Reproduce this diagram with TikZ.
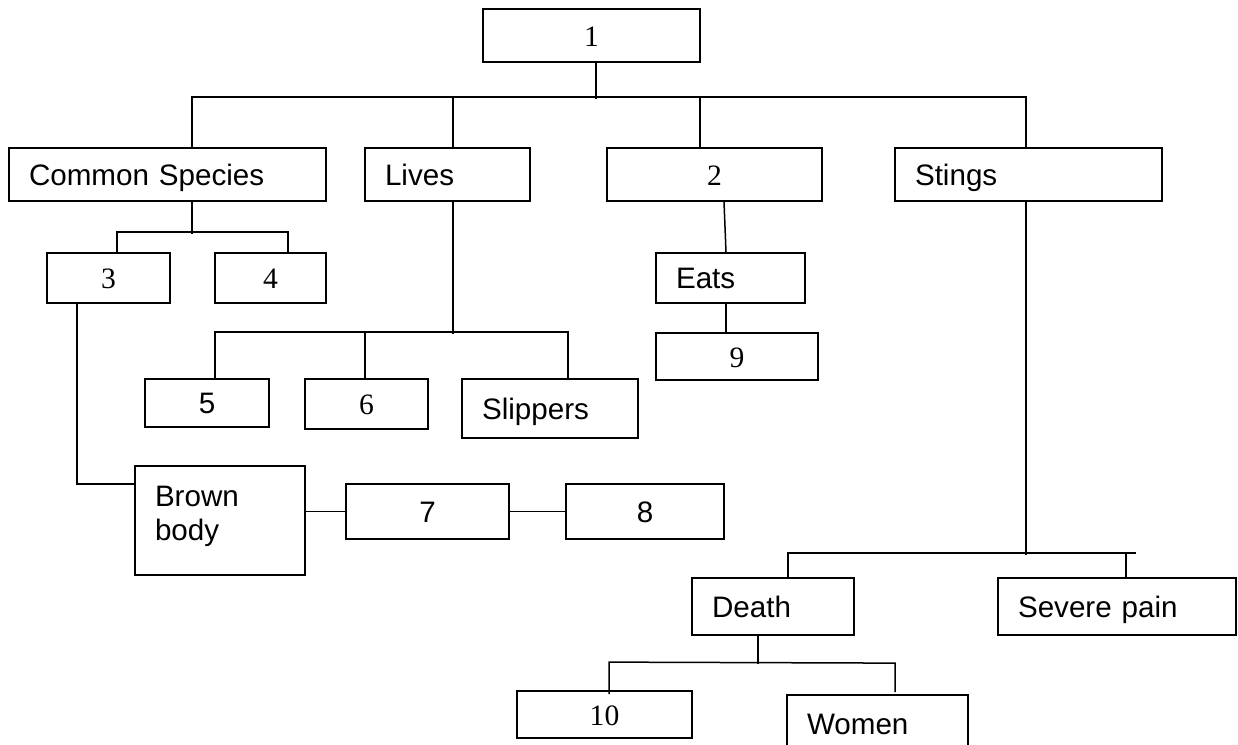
\documentclass[tikz,border=0pt]{standalone}
\usepackage{fontspec}
\setmainfont{Liberation Sans}
\newfontfamily\tms{Liberation Serif}
\newcommand{\fsz}{\fontsize{29.6pt}{34pt}\selectfont}
\tikzset{
  base/.style={draw=black, line width=1.8pt, rectangle, inner sep=0pt, font=\fsz,
    text height=21.2pt, text depth=0pt},
  numbox/.style n args={2}{base, minimum width=#1, minimum height=#2, font=\tms\fsz},
  sansnum/.style n args={2}{base, minimum width=#1, minimum height=#2},
  lbox/.style n args={3}{base, minimum width=#1, minimum height=#2, text width=#3,
    inner xsep=20pt, align=left},
  conn/.style={draw=black, line width=1.5pt}
}
\begin{document}
\begin{tikzpicture}[x=1pt,y=-1pt]
\useasboundingbox[fill=white] (0,0) rectangle (1238,744);
% row 0
\node[numbox={217pt}{53pt}] (n1) at (591.5,35.5) {1};
% row 1
\node[lbox={317pt}{53pt}{277pt}] (cs) at (167.5,174.5) {Common Species};
\node[lbox={165pt}{53pt}{125pt}] (lv) at (447.5,174.5) {Lives};
\node[numbox={215pt}{53pt}] (n2) at (714.5,174.5) {2};
\node[lbox={267pt}{53pt}{227pt}] (st) at (1028.5,174.5) {Stings};
% row 2
\node[numbox={123pt}{50pt}] (n3) at (108.5,278) {3};
\node[numbox={111pt}{50pt}] (n4) at (270.5,278) {4};
\node[lbox={149pt}{50pt}{109pt}] (eats) at (730.5,278) {Eats};
\node[numbox={162pt}{47pt}] (n9) at (737,356.5) {9};
% row 3
\node[sansnum={124pt}{48pt}] (n5) at (207,403) {5};
\node[numbox={123pt}{50pt}] (n6) at (366.5,404) {6};
\node[lbox={176pt}{59pt}{136pt}] (sl) at (550,408.5) {Slippers};
% row 4
\node[lbox={170pt}{109pt}{130pt}, text depth=49.8pt] (bb) at (220,520.5) {Brown\\body};
\node[sansnum={163pt}{55pt}] (n7) at (427.5,511.5) {7};
\node[sansnum={158pt}{55pt}] (n8) at (645,511.5) {8};
% row 5
\node[lbox={162pt}{57pt}{122pt}] (de) at (773,606.5) {Death};
\node[lbox={238pt}{57pt}{198pt}] (sp) at (1117,606.5) {Severe pain};
% row 6
\node[numbox={175pt}{47pt}] (n10) at (604.5,714.5) {10};
\node[lbox={181pt}{57pt}{141pt}] (wo) at (877.5,723.5) {Women};

% connectors
\draw[conn] ([xshift=4.5pt]n1.south) -- ++(0,36);
\draw[conn] ([xshift=24.5pt]cs.north) -- ++(0,-50) -| ([xshift=-2.5pt]st.north);
\draw[conn] ([xshift=5.5pt]lv.north) -- ++(0,-50);
\draw[conn] ([xshift=-14.5pt]n2.north) -- ++(0,-50);

\draw[conn] ([xshift=24.5pt]cs.south) -- ++(0,32);
\draw[conn] ([xshift=8.5pt]n3.north) -- ++(0,-20) -| ([xshift=17.5pt]n4.north);

\draw[conn] ([xshift=5.5pt]lv.south) -- ++(0,132);
\draw[conn] ([xshift=8pt]n5.north) -- ++(0,-46) -| ([xshift=18pt]sl.north);
\draw[conn] ([xshift=-1.5pt]n6.north) -- ++(0,-46);

\draw[conn] ([xshift=-31.5pt]n3.south) |- ([yshift=36.5pt]bb.west);
\draw[conn] (n7.west) -- (n7.west -| bb.east);
\draw[conn] (n7.east) -- ([xshift=2pt]n8.west);

\draw[conn] ([xshift=9.5pt]n2.south) -- ([xshift=-4.5pt]eats.north);
\draw[conn] ([xshift=-4.5pt]eats.south) -- ([xshift=-11pt]n9.north);

\draw[conn] ([xshift=-2.5pt]st.south) -- ++(0,353);
\draw[conn] ([xshift=15pt]de.north) -- ++(0,-24) -- ++(348,0);
\draw[conn] ([xshift=9pt]sp.north) -- ++(0,-24);

\draw[conn] ([xshift=-15pt,yshift=2pt]de.south) -- ++(0,30);
\draw[conn] ([xshift=4.5pt,yshift=-4pt]n10.north) -- ++(0,-32) -- ++(286,1) -- ++(0,29);
\end{tikzpicture}
\end{document}
